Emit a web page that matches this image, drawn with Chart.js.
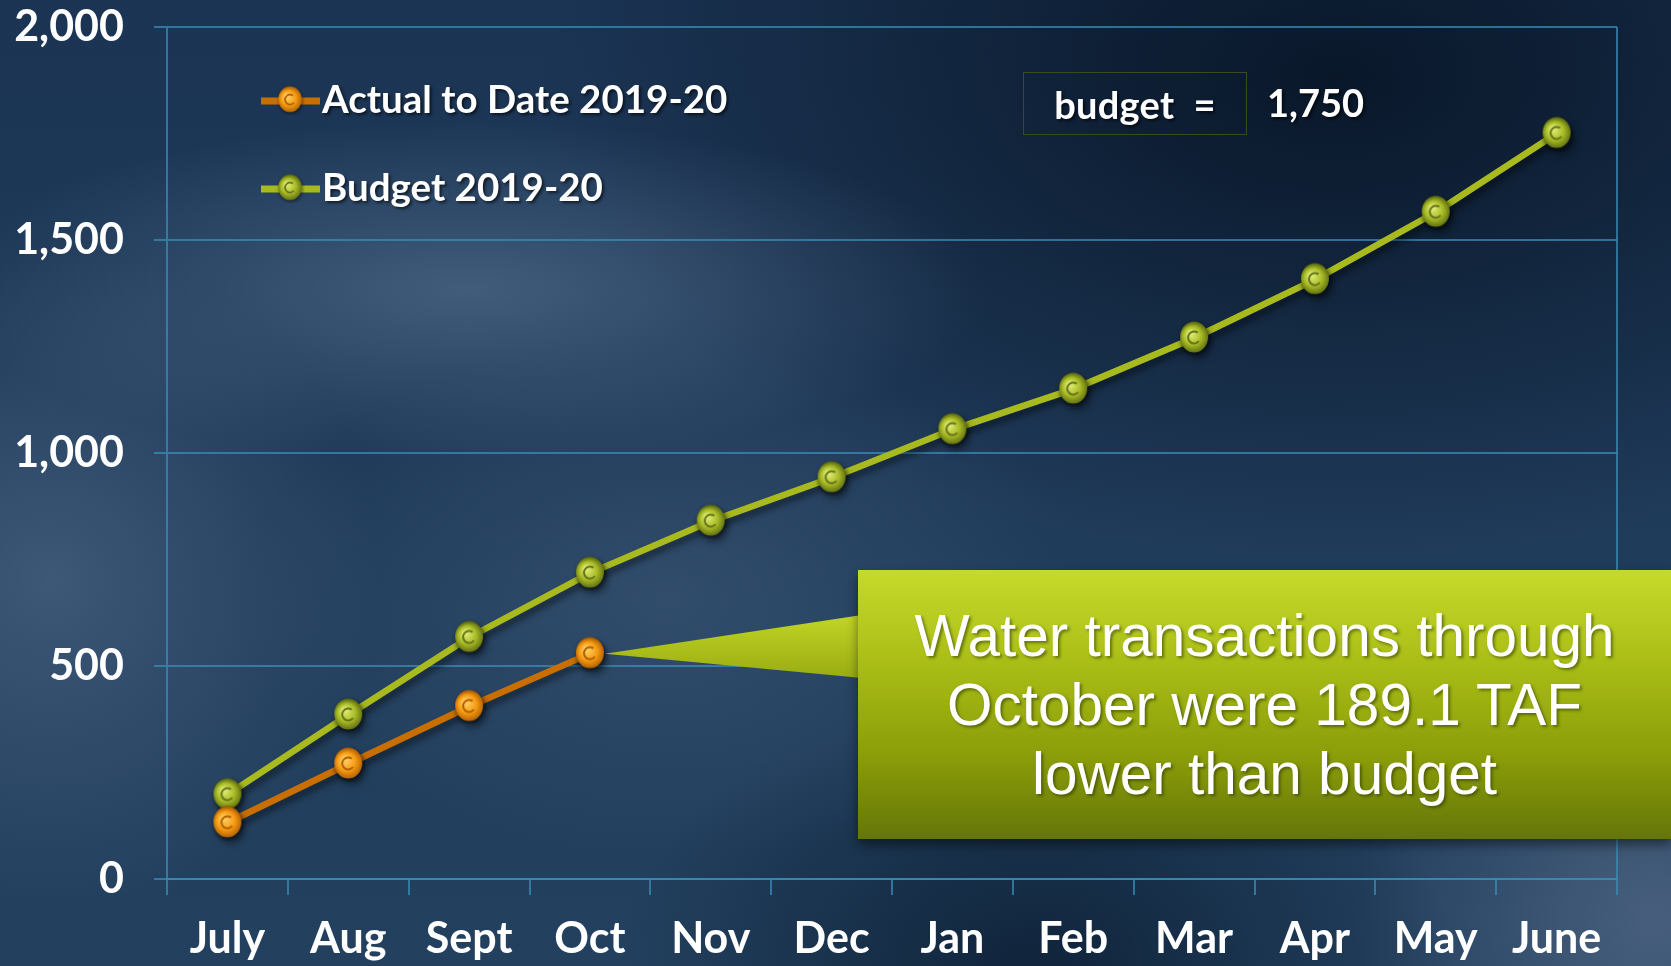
<!DOCTYPE html>
<html>
<head>
<meta charset="utf-8">
<script src="https://cdn.jsdelivr.net/npm/chart.js@4.4.1/dist/chart.umd.min.js"></script>
<style>
  html, body { margin:0; padding:0; width:1671px; height:966px; overflow:hidden; }
  body {
    position:relative;
    background:
      radial-gradient(ellipse 520px 170px at 28% 30%, rgba(95,122,152,0.55), rgba(95,122,152,0) 100%),
      radial-gradient(ellipse 330px 330px at 3% 60%, rgba(85,110,140,0.55), rgba(85,110,140,0) 100%),
      radial-gradient(ellipse 420px 260px at 40% 62%, rgba(70,98,128,0.45), rgba(70,98,128,0) 100%),
      radial-gradient(ellipse 800px 480px at 80% 8%, rgba(6,18,34,0.85), rgba(6,18,34,0) 100%),
      radial-gradient(ellipse 420px 280px at 62% 100%, rgba(8,24,44,0.7), rgba(8,24,44,0) 100%),
      radial-gradient(ellipse 300px 320px at 99% 95%, rgba(95,115,145,0.6), rgba(95,115,145,0) 100%),
      linear-gradient(180deg, #1b3454 0%, #23415f 100%);
  }
  #wrap { position:absolute; left:0; top:0; width:1671px; height:966px; }
  .box {
    position:absolute; left:1023px; top:72px; width:222px; height:61px;
    border:1.5px solid #3a4a22; color:#fff; font:bold 38px Lato, sans-serif;
    display:flex; align-items:center; justify-content:center; letter-spacing:0.3px;
    text-shadow: 2px 2px 3px rgba(0,0,0,0.6); white-space:pre;
  }
  .boxval {
    position:absolute; left:1267px; top:79px; color:#fff; font:bold 38px Lato, sans-serif;
    text-shadow: 2px 2px 3px rgba(0,0,0,0.6);
  }
  .callout {
    position:absolute; left:858px; top:570px; width:813px; height:269px;
    background: linear-gradient(180deg, #c6da2b 0%, #a9bd16 35%, #8a9c08 70%, #65760a 100%);
    box-shadow: 0 6px 10px rgba(0,0,0,0.45);
    color:#fff; font:58.5px "Liberation Sans", Arial, sans-serif; line-height:69px;
    text-align:center; display:flex; align-items:center; justify-content:center;
    text-shadow: 2px 2px 3px rgba(40,50,0,0.55);
  }
</style>
</head>
<body>
<div id="wrap"><canvas id="c" width="1671" height="966"></canvas></div>
<div class="box">budget  =</div>
<div class="boxval">1,750</div>
<div class="callout"><div>Water transactions through<br>October were 189.1 TAF<br>lower than budget</div></div>
<script>
const months = ["July","Aug","Sept","Oct","Nov","Dec","Jan","Feb","Mar","Apr","May","June"];
const actualToDate = [132, 270, 405, 529];
const budget2019 = [198, 385, 567, 718, 840, 942, 1055, 1150, 1270, 1407, 1565, 1750];
const yTicks = [0, 500, 1000, 1500, 2000];
const seriesNames = ["Actual to Date 2019-20", "Budget 2019-20"];

function makeBall(c1, c2, c3, rim) {
  const s = 36, cv = document.createElement('canvas');
  cv.width = s; cv.height = s;
  const x = cv.getContext('2d');
  x.shadowColor = 'rgba(0,0,0,0.5)'; x.shadowBlur = 4; x.shadowOffsetX = 1; x.shadowOffsetY = 2;
  const g = x.createRadialGradient(14, 13, 1, 18, 18, 16);
  g.addColorStop(0, c1); g.addColorStop(0.55, c2); g.addColorStop(1, c3);
  x.fillStyle = g;
  x.beginPath(); x.ellipse(18, 17, 14, 15.5, 0, 0, Math.PI*2); x.fill();
  x.shadowColor = 'transparent';
  x.strokeStyle = rim; x.lineWidth = 2;
  x.beginPath(); x.arc(18, 17.5, 6, Math.PI*0.2, Math.PI*1.7); x.stroke();
  return cv;
}
const ballOrange = makeBall('#ffd36a', '#f59a12', '#a85800', '#b06000');
const ballGreen = makeBall('#e4f07a', '#a6b924', '#566410', '#66741a');

const C_ORANGE = '#c96f02';
const C_GREEN = '#a8ba1e';
const GRID = 'rgba(58,140,182,0.75)';

const overlay = {
  id: 'overlay',
  beforeDatasetsDraw(chart) {
    const { ctx, chartArea: a } = chart;
    ctx.save();
    ctx.strokeStyle = GRID; ctx.lineWidth = 2;
    ctx.beginPath(); ctx.moveTo(a.right, a.top); ctx.lineTo(a.right, a.bottom); ctx.stroke();
    ctx.restore();
  },
  beforeDatasetDraw(chart) {
    chart.ctx.save();
    chart.ctx.shadowColor = 'rgba(0,0,0,0.45)';
    chart.ctx.shadowBlur = 6; chart.ctx.shadowOffsetX = 3; chart.ctx.shadowOffsetY = 5;
  },
  afterDatasetDraw(chart) { chart.ctx.restore(); },
  afterDatasetsDraw(chart) {
    const { ctx } = chart;
    const meta = chart.getDatasetMeta(0);
    const p = meta.data[actualToDate.length - 1];
    ctx.save();
    const g = ctx.createLinearGradient(0, 610, 0, 680);
    g.addColorStop(0, '#c4d828'); g.addColorStop(1, '#98ab10');
    ctx.fillStyle = g;
    ctx.beginPath();
    ctx.moveTo(p.x + 15, p.y);
    ctx.lineTo(862, 615);
    ctx.lineTo(862, 678);
    ctx.closePath(); ctx.fill();
    ctx.restore();
    const rows = [
      { y: 101, color: C_ORANGE, img: ballOrange, text: seriesNames[0] },
      { y: 189, color: C_GREEN, img: ballGreen, text: seriesNames[1] }
    ];
    ctx.save();
    rows.forEach(r => {
      ctx.strokeStyle = r.color; ctx.lineWidth = 7;
      ctx.beginPath(); ctx.moveTo(261, r.y); ctx.lineTo(320, r.y); ctx.stroke();
      ctx.drawImage(r.img, 290 - 15, r.y - 16, 30, 30);
      ctx.shadowColor = 'rgba(0,0,0,0.6)'; ctx.shadowBlur = 3; ctx.shadowOffsetX = 2; ctx.shadowOffsetY = 2;
      ctx.fillStyle = '#fff'; ctx.font = 'bold 38.5px Lato, sans-serif';
      ctx.textBaseline = 'middle'; ctx.textAlign = 'left';
      ctx.fillText(r.text, 322, r.y);
      ctx.shadowColor = 'transparent';
    });
    ctx.restore();
  }
};

new Chart(document.getElementById('c'), {
  type: 'line',
  data: {
    labels: months,
    datasets: [
      { label: seriesNames[0], data: actualToDate, borderColor: C_ORANGE, borderWidth: 6.5,
        pointStyle: ballOrange, pointRadius: 15, tension: 0 },
      { label: seriesNames[1], data: budget2019, borderColor: C_GREEN, borderWidth: 6.5,
        pointStyle: ballGreen, pointRadius: 15, tension: 0 }
    ]
  },
  options: {
    responsive: false, animation: false,
    layout: { padding: { top: 27, right: 54, bottom: 0, left: 0 } },
    plugins: { legend: { display: false }, tooltip: { enabled: false } },
    scales: {
      x: {
        offset: true,
        grid: { offset: true, drawOnChartArea: false, drawTicks: true, tickLength: 16, color: GRID, lineWidth: 2 },
        border: { color: GRID, width: 2 },
        ticks: { color: '#fff', font: { family: 'Lato', weight: 'bold', size: 43 }, padding: 18, maxRotation: 0, autoSkip: false },
        afterFit(s) { s.height = 87; s.paddingLeft = 0; s.paddingRight = 0; }
      },
      y: {
        min: 0, max: 2000,
        afterBuildTicks(s) { s.ticks = yTicks.map(v => ({ value: v })); },
        grid: { color: GRID, lineWidth: 2, tickLength: 13 },
        border: { color: GRID, width: 2 },
        ticks: { color: '#fff', font: { family: 'Lato', weight: 'bold', size: 43 }, padding: 30,
                 callback: v => v.toLocaleString('en-US') },
        afterFit(s) { s.width = 167; s.paddingTop = 0; s.paddingBottom = 0; }
      }
    }
  },
  plugins: [overlay]
});
</script>
</body>
</html>
